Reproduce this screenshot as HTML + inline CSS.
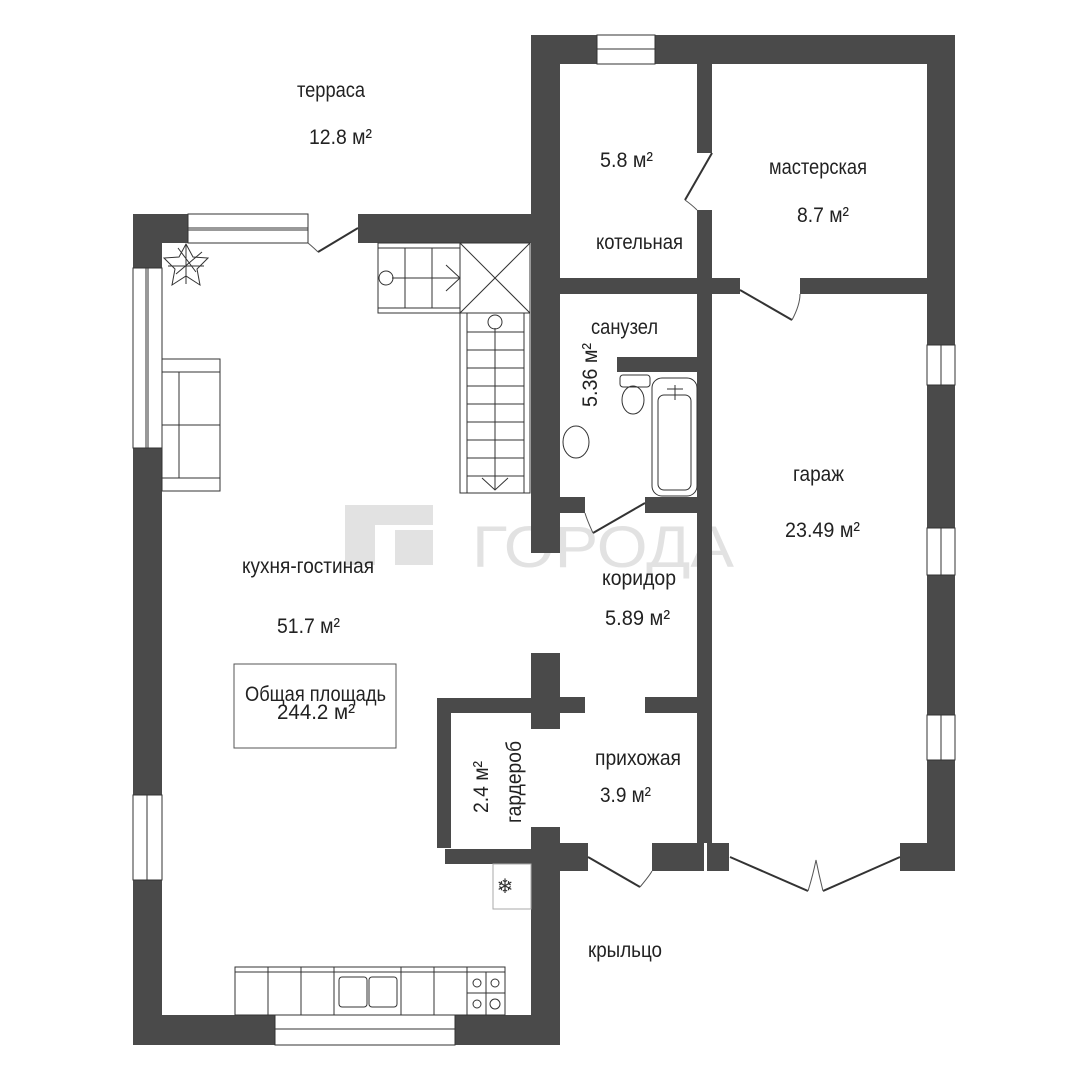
<!DOCTYPE html>
<html><head><meta charset="utf-8"><style>
html,body{margin:0;padding:0;background:#fff}
svg{display:block}
text{font-family:"Liberation Sans",sans-serif;fill:#222;font-size:21px}
</style></head><body>
<svg width="1080" height="1080" viewBox="0 0 1080 1080" xmlns="http://www.w3.org/2000/svg">
<g fill="#e2e2e2">
<rect x="345" y="505" width="88" height="20"/>
<rect x="345" y="505" width="30" height="60"/>
<rect x="395" y="530" width="38" height="35"/>
</g>
<text x="472" y="567" textLength="262" lengthAdjust="spacingAndGlyphs" style="font-size:58px;fill:#e2e2e2">ГОРОДА</text>

<g fill="#4a4a4a">
<rect x="133" y="214" width="55" height="29"/>
<rect x="133" y="214" width="29" height="54"/>
<rect x="133" y="448" width="29" height="347"/>
<rect x="133" y="880" width="29" height="165"/>
<rect x="133" y="1015" width="142" height="30"/>
<rect x="455" y="1015" width="105" height="30"/>
<rect x="358" y="214" width="174" height="29"/>
<rect x="531" y="35" width="29" height="518"/>
<rect x="531" y="653" width="29" height="76"/>
<rect x="531" y="827" width="29" height="218"/>
<rect x="437" y="698" width="95" height="15"/>
<rect x="437" y="698" width="14" height="150"/>
<rect x="445" y="849" width="87" height="15"/>
<rect x="531" y="35" width="66" height="29"/>
<rect x="655" y="35" width="300" height="29"/>
<rect x="927" y="35" width="28" height="310"/>
<rect x="927" y="385" width="28" height="143"/>
<rect x="927" y="575" width="28" height="140"/>
<rect x="927" y="760" width="28" height="110"/>
<rect x="697" y="64" width="15" height="89"/>
<rect x="697" y="210" width="15" height="84"/>
<rect x="560" y="278" width="180" height="16"/>
<rect x="800" y="278" width="127" height="16"/>
<rect x="697" y="294" width="15" height="549"/>
<rect x="617" y="357" width="80" height="15"/>
<rect x="560" y="497" width="25" height="16"/>
<rect x="645" y="497" width="52" height="16"/>
<rect x="560" y="697" width="25" height="16"/>
<rect x="645" y="697" width="52" height="16"/>
<rect x="560" y="843" width="28" height="28"/>
<rect x="652" y="843" width="52" height="28"/>
<rect x="707" y="843" width="22" height="28"/>
<rect x="900" y="843" width="55" height="28"/>
</g>

<g fill="none" stroke="#333" stroke-width="1">
<rect x="188" y="214" width="120" height="29"/>
<line x1="188" y1="228" x2="308" y2="228"/><line x1="188" y1="230" x2="308" y2="230"/>
<rect x="133" y="268" width="29" height="180"/>
<line x1="146" y1="268" x2="146" y2="448"/><line x1="148" y1="268" x2="148" y2="448"/>
<rect x="133" y="795" width="29" height="85"/>
<line x1="147" y1="795" x2="147" y2="880"/>
<rect x="275" y="1015" width="180" height="30"/>
<line x1="275" y1="1029" x2="455" y2="1029"/>
<rect x="597" y="35" width="58" height="29"/>
<line x1="597" y1="49" x2="655" y2="49"/>
<rect x="927" y="345" width="28" height="40"/><line x1="941" y1="345" x2="941" y2="385"/>
<rect x="927" y="528" width="28" height="47"/><line x1="941" y1="528" x2="941" y2="575"/>
<rect x="927" y="715" width="28" height="45"/><line x1="941" y1="715" x2="941" y2="760"/>
<rect x="234" y="664" width="162" height="84" stroke="#555"/>
<rect x="378" y="243" width="82" height="70"/>
<line x1="378" y1="248" x2="460" y2="248"/><line x1="378" y1="308" x2="460" y2="308"/>
<line x1="405" y1="248" x2="405" y2="308"/><line x1="432" y1="248" x2="432" y2="308"/>
<line x1="392" y1="278" x2="460" y2="278"/>
<circle cx="386" cy="278" r="7"/>
<polyline points="446,265 460,278 446,291"/>
<rect x="460" y="243" width="70" height="70"/>
<line x1="460" y1="243" x2="530" y2="313"/><line x1="530" y1="243" x2="460" y2="313"/>
<rect x="460" y="313" width="70" height="180"/>
<line x1="467" y1="313" x2="467" y2="493"/><line x1="524" y1="313" x2="524" y2="493"/>
<line x1="495" y1="328" x2="495" y2="490"/>
<circle cx="495" cy="322" r="7"/>
<g><line x1="467" y1="332" x2="524" y2="332"/><line x1="467" y1="350" x2="524" y2="350"/><line x1="467" y1="368" x2="524" y2="368"/><line x1="467" y1="386" x2="524" y2="386"/><line x1="467" y1="404" x2="524" y2="404"/><line x1="467" y1="422" x2="524" y2="422"/><line x1="467" y1="440" x2="524" y2="440"/><line x1="467" y1="458" x2="524" y2="458"/><line x1="467" y1="476" x2="524" y2="476"/></g>
<polyline points="482,478 495,490 508,478"/>
<rect x="162" y="359" width="58" height="132"/>
<rect x="162" y="372" width="58" height="106"/>
<line x1="179" y1="372" x2="179" y2="478"/><line x1="162" y1="425" x2="220" y2="425"/>
<g transform="translate(186,264)">
<path d="M0,-20 L7,-7 L22,-6 L11,5 L14,21 L0,12 L-14,21 L-11,5 L-22,-6 L-7,-7Z"/>
<path d="M-8,-16 L10,8 M16,-12 L-10,10 M-18,2 L18,2 M0,-20 L0,20"/>
</g>
<rect x="493" y="864" width="38" height="45" stroke="#aaa"/>
<rect x="235" y="967" width="270" height="48"/>
<line x1="235" y1="972" x2="505" y2="972"/>
<line x1="268" y1="967" x2="268" y2="1015"/><line x1="301" y1="967" x2="301" y2="1015"/><line x1="334" y1="967" x2="334" y2="1015"/><line x1="401" y1="967" x2="401" y2="1015"/><line x1="434" y1="967" x2="434" y2="1015"/><line x1="467" y1="967" x2="467" y2="1015"/>
<rect x="339" y="977" width="28" height="30" rx="3"/><rect x="369" y="977" width="28" height="30" rx="3"/>
<line x1="486" y1="972" x2="486" y2="1015"/><line x1="467" y1="993" x2="505" y2="993"/>
<circle cx="477" cy="983" r="4"/><circle cx="495" cy="983" r="4"/><circle cx="477" cy="1004" r="4"/><circle cx="495" cy="1004" r="5"/>
<rect x="652" y="378" width="45" height="118" rx="10"/>
<rect x="658" y="395" width="33" height="95" rx="6"/>
<line x1="675" y1="385" x2="675" y2="400"/><line x1="667" y1="389" x2="683" y2="389"/>
<rect x="620" y="375" width="30" height="12" rx="3"/>
<ellipse cx="633" cy="400" rx="11" ry="14"/>
<ellipse cx="576" cy="442" rx="13" ry="16"/>
</g>

<g fill="none" stroke="#333" stroke-width="2">
<line x1="358" y1="228" x2="318" y2="252"/>
<line x1="712" y1="153" x2="685" y2="200"/>
<line x1="740" y1="290" x2="792" y2="320"/>
<line x1="645" y1="503" x2="593" y2="533"/>
<line x1="588" y1="857" x2="640" y2="887"/>
<line x1="730" y1="857" x2="808" y2="891"/>
<line x1="900" y1="857" x2="823" y2="891"/>
</g>
<g fill="none" stroke="#555" stroke-width="1">
<path d="M308,243 Q314,248 318,252"/>
<path d="M685,200 Q692,205 697,210"/>
<path d="M792,320 Q800,305 800,294"/>
<path d="M593,533 Q587,520 585,513"/>
<path d="M640,887 Q650,875 652,871"/>
<path d="M808,891 Q813,875 816,860 Q819,875 823,891"/>
</g>
<text x="505" y="893" style="font-size:20px;fill:#333" text-anchor="middle">❄</text>

<text x="297" y="97" textLength="68" lengthAdjust="spacingAndGlyphs">терраса</text>
<text x="309" y="144" textLength="63" lengthAdjust="spacingAndGlyphs">12.8 м²</text>
<text x="600" y="167" textLength="53" lengthAdjust="spacingAndGlyphs">5.8 м²</text>
<text x="596" y="249" textLength="87" lengthAdjust="spacingAndGlyphs">котельная</text>
<text x="769" y="174" textLength="98" lengthAdjust="spacingAndGlyphs">мастерская</text>
<text x="797" y="222" textLength="52" lengthAdjust="spacingAndGlyphs">8.7 м²</text>
<text x="591" y="334" textLength="67" lengthAdjust="spacingAndGlyphs">санузел</text>
<text transform="translate(597,407) rotate(-90)" textLength="64" lengthAdjust="spacingAndGlyphs">5.36 м²</text>
<text x="793" y="481" textLength="51" lengthAdjust="spacingAndGlyphs">гараж</text>
<text x="785" y="537" textLength="75" lengthAdjust="spacingAndGlyphs">23.49 м²</text>
<text x="602" y="585" textLength="74" lengthAdjust="spacingAndGlyphs">коридор</text>
<text x="605" y="625" textLength="65" lengthAdjust="spacingAndGlyphs">5.89 м²</text>
<text x="242" y="573" textLength="132" lengthAdjust="spacingAndGlyphs">кухня-гостиная</text>
<text x="277" y="633" textLength="63" lengthAdjust="spacingAndGlyphs">51.7 м²</text>
<text x="245" y="701" textLength="141" lengthAdjust="spacingAndGlyphs">Общая площадь</text>
<text x="277" y="719" textLength="78" lengthAdjust="spacingAndGlyphs">244.2 м²</text>
<text x="595" y="765" textLength="86" lengthAdjust="spacingAndGlyphs">прихожая</text>
<text x="600" y="802" textLength="51" lengthAdjust="spacingAndGlyphs">3.9 м²</text>
<text transform="translate(488,813) rotate(-90)" textLength="52" lengthAdjust="spacingAndGlyphs">2.4 м²</text>
<text transform="translate(521,823) rotate(-90)" textLength="82" lengthAdjust="spacingAndGlyphs">гардероб</text>
<text x="588" y="957" textLength="74" lengthAdjust="spacingAndGlyphs">крыльцо</text>
</svg>
</body></html>
